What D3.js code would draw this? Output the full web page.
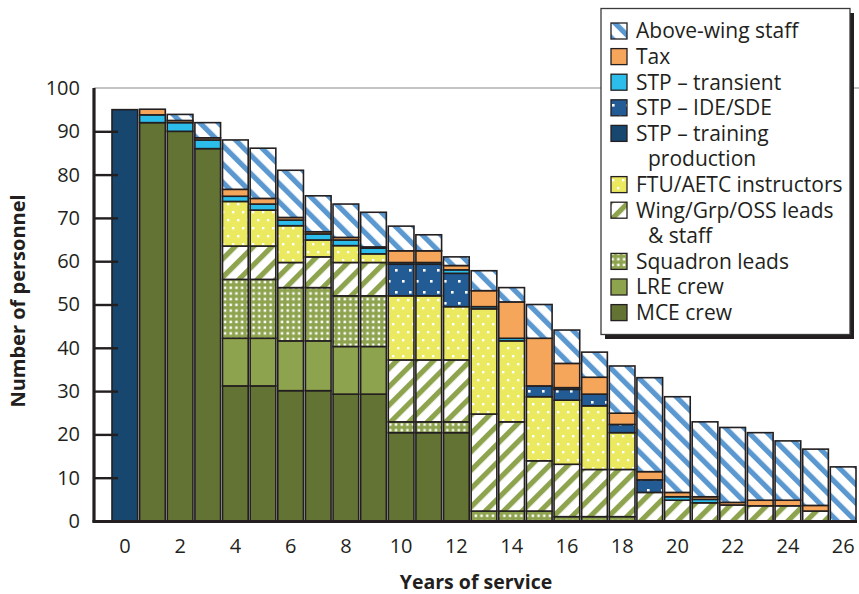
<!DOCTYPE html>
<html>
<head>
<meta charset="utf-8">
<script src="https://cdn.jsdelivr.net/npm/d3@7"></script>
<style>
  html, body { margin: 0; padding: 0; background: #fff; }
  svg { display: block; }
  text { font-family: "Open Sans", "Noto Sans", sans-serif; fill: #231f20; }
</style>
</head>
<body>
<svg id="chart" width="859" height="594"></svg>
<script>
// ---------- DATA ----------
const years = d3.range(0, 27);
const xTickLabels = ["0","2","4","6","8","10","12","14","16","18","20","22","24","26"];
const yTicks = [0,10,20,30,40,50,60,70,80,90,100];

const mceCrew       = [0, 92, 90, 86, 31.2, 31.2, 30.1, 30.1, 29.3, 29.3, 20.4, 20.4, 20.4, 0, 0, 0, 0, 0, 0, 0, 0, 0, 0, 0, 0, 0, 0];
const lreCrew       = [0, 0, 0, 0, 11.0, 11.0, 11.5, 11.5, 11.0, 11.0, 0, 0, 0, 0, 0, 0, 0, 0, 0, 0, 0, 0, 0, 0, 0, 0, 0];
const squadronLeads = [0, 0, 0, 0, 13.6, 13.6, 12.3, 12.3, 11.7, 11.7, 2.5, 2.5, 2.5, 2.3, 2.3, 2.3, 1.0, 1.0, 1.0, 0, 0, 0, 0, 0, 0, 0, 0];
const wingLeads     = [0, 0, 0, 0, 7.7, 7.7, 5.8, 7.1, 7.7, 7.7, 14.3, 14.3, 14.3, 22.4, 20.6, 11.6, 12.1, 10.9, 10.9, 6.6, 4.8, 4.2, 3.7, 3.5, 3.5, 2.3, 0];
const ftuAetc       = [0, 0, 0, 0, 10.3, 8.3, 8.5, 3.9, 3.9, 2.0, 14.8, 14.8, 12.3, 24.3, 18.7, 14.8, 14.8, 14.7, 8.5, 0, 0, 0, 0, 0, 0, 0, 0];
const stpTraining   = [95, 0, 0, 0, 0, 0, 0, 0, 0, 0, 0, 0, 0, 0, 0, 0, 0, 0, 0, 0, 0, 0, 0, 0, 0, 0, 0];
const stpIdeSde     = [0, 0, 0, 0, 0, 0, 0, 0, 0, 0, 7.3, 7.3, 7.7, 0, 0, 2.5, 2.5, 2.7, 1.9, 2.9, 0, 0, 0, 0, 0, 0, 0];
const stpTransient  = [0, 1.8, 2.0, 2.0, 1.2, 1.4, 1.3, 1.4, 1.3, 1.3, 0.4, 0.4, 0.8, 0.5, 0.6, 0, 0.4, 0, 0, 0, 0.8, 0.8, 0, 0, 0, 0, 0];
const tax           = [0, 1.3, 0.5, 0.5, 1.6, 1.3, 0.6, 0.5, 0.6, 0.3, 2.7, 2.7, 1.0, 3.7, 8.4, 11.0, 5.6, 3.9, 2.6, 1.9, 1.0, 0.6, 0.6, 1.3, 1.3, 1.3, 0];
const aboveWing     = [0, 0, 1.4, 3.5, 11.4, 11.6, 10.9, 8.3, 7.7, 8.0, 5.7, 3.7, 2.0, 4.6, 3.3, 7.8, 7.7, 5.8, 10.9, 21.7, 22.1, 17.3, 17.3, 15.6, 13.7, 13.0, 12.5];

// stack order bottom -> top
const seriesKeys = ["mce","lre","sqd","wing","ftu","train","ide","trans","tax","above"];
const seriesValues = {
  mce: mceCrew, lre: lreCrew, sqd: squadronLeads, wing: wingLeads, ftu: ftuAetc,
  train: stpTraining, ide: stpIdeSde, trans: stpTransient, tax: tax, above: aboveWing
};
// legend order top -> bottom
const legendKeys = ["above","tax","trans","ide","train","ftu","wing","sqd","lre","mce"];
const legendLabels = {
  above: ["Above-wing staff"], tax: ["Tax"], trans: ["STP \u2013 transient"],
  ide: ["STP \u2013 IDE/SDE"], train: ["STP \u2013 training", "production"],
  ftu: ["FTU/AETC instructors"], wing: ["Wing/Grp/OSS leads", "& staff"],
  sqd: ["Squadron leads"], lre: ["LRE crew"], mce: ["MCE crew"]
};

// ---------- STYLE ----------
const fills = {
  mce: "#627334", lre: "#8ea34e", sqd: "url(#pSqd)", wing: "url(#pWing)",
  ftu: "url(#pFtu)", train: "#17466f", ide: "url(#pIde)", trans: "#2cbdea",
  tax: "#f6a65b", above: "url(#pAbove)"
};

const svg = d3.select("#chart");
const defs = svg.append("defs");

function stripePattern(id, color, angle, period, stripe) {
  const p = defs.append("pattern").attr("id", id)
    .attr("patternUnits", "userSpaceOnUse")
    .attr("width", period).attr("height", period)
    .attr("patternTransform", `rotate(${angle})`);
  p.append("rect").attr("width", period).attr("height", period).attr("fill", "#fff");
  p.append("rect").attr("width", stripe).attr("height", period).attr("fill", color);
}
stripePattern("pAbove", "#5b98d0", -45, 13, 5.2);
stripePattern("pWing", "#8ea34e", 45, 13, 5.2);

function dotPattern(id, bg, w, h, dots, size) {
  const p = defs.append("pattern").attr("id", id)
    .attr("patternUnits", "userSpaceOnUse").attr("width", w).attr("height", h);
  p.append("rect").attr("width", w).attr("height", h).attr("fill", bg);
  dots.forEach(d => p.append("rect").attr("x", d[0]).attr("y", d[1])
    .attr("width", size).attr("height", size).attr("fill", "#fff"));
}
dotPattern("pSqd", "#8ea34e", 5.7, 5.7, [[1.5, 1.5]], 2.5);
dotPattern("pFtu", "#ebe95f", 10, 16, [[2, 3], [7, 11]], 2.4);
dotPattern("pIde", "#235b94", 14, 22, [[3, 5], [10, 16]], 2.6);

// ---------- SCALES ----------
const x = d3.scaleBand().domain(years).range([112, 856]).paddingInner(0.07).paddingOuter(0);
const y = d3.scaleLinear().domain([0, 100]).range([521, 88]);

// top reference line at 100
svg.append("line").attr("x1", 94).attr("x2", 859).attr("y1", y(100)).attr("y2", y(100))
  .attr("stroke", "#8a8a8a").attr("stroke-width", 1.2);

// ---------- BARS ----------
const table = years.map((yr, i) => {
  const row = { year: yr };
  seriesKeys.forEach(k => row[k] = seriesValues[k][i]);
  return row;
});
const stacked = d3.stack().keys(seriesKeys)(table);

const gBars = svg.append("g");
stacked.forEach(layer => {
  gBars.append("g").selectAll("rect")
    .data(layer.filter(d => d[1] - d[0] > 0))
    .join("rect")
    .attr("x", d => x(d.data.year))
    .attr("width", x.bandwidth())
    .attr("y", d => y(d[1]))
    .attr("height", d => y(d[0]) - y(d[1]))
    .attr("fill", fills[layer.key])
    .attr("stroke", "#231f20")
    .attr("stroke-width", 1.6);
});

// ---------- AXES ----------
const yAxis = d3.axisLeft(y).tickValues(yTicks).tickSizeInner(-24).tickSizeOuter(0).tickPadding(40);
const gy = svg.append("g").attr("transform", "translate(94,0)").call(yAxis);
gy.select(".domain").remove();
gy.selectAll(".tick line").attr("stroke", "#231f20").attr("stroke-width", 2.4)
  .filter(d => d === 0 || d === 100).remove();
gy.selectAll(".tick text").attr("font-size", 20).attr("fill", "#231f20")
  .attr("font-family", "'Open Sans', sans-serif").attr("dx", 26);

svg.append("line").attr("x1", 94).attr("x2", 94).attr("y1", y(100)).attr("y2", 522.5)
  .attr("stroke", "#231f20").attr("stroke-width", 3.2);
svg.append("line").attr("x1", 92.5).attr("x2", 857).attr("y1", 521.5).attr("y2", 521.5)
  .attr("stroke", "#231f20").attr("stroke-width", 3.2);

const xAxis = d3.axisBottom(x).tickValues(years.filter(v => xTickLabels.includes(String(v))))
  .tickSize(0).tickPadding(18);
const gx = svg.append("g").attr("transform", "translate(0,521)").call(xAxis);
gx.select(".domain").remove();
gx.selectAll(".tick text").attr("font-size", 20).attr("fill", "#231f20")
  .attr("font-family", "'Open Sans', sans-serif");

// titles
svg.append("text").attr("x", 476).attr("y", 589).attr("text-anchor", "middle")
  .attr("font-weight", "bold").attr("font-size", 19.5).text("Years of service");
svg.append("text").attr("transform", "translate(25,301) rotate(-90)").attr("text-anchor", "middle")
  .attr("font-weight", "bold").attr("font-size", 20).text("Number of personnel");

// ---------- LEGEND ----------
const lg = svg.append("g");
lg.append("rect").attr("x", 605).attr("y", 13).attr("width", 249).attr("height", 326).attr("fill", "#231f20");
lg.append("rect").attr("x", 601).attr("y", 8.5).attr("width", 249).attr("height", 326)
  .attr("fill", "#fff").attr("stroke", "#3a3a3a").attr("stroke-width", 1.3);

let ly = 31;
const lineH = 25.6;
legendKeys.forEach(k => {
  lg.append("rect").attr("x", 611).attr("y", ly - 8).attr("width", 16).attr("height", 16)
    .attr("fill", fills[k]).attr("stroke", "#231f20").attr("stroke-width", 1.3);
  legendLabels[k].forEach((t, j) => {
    lg.append("text").attr("x", j === 0 ? 636 : 648).attr("y", ly).attr("dy", "0.35em")
      .attr("font-size", 21).text(t);
    ly += lineH;
  });
});
</script>
</body>
</html>
